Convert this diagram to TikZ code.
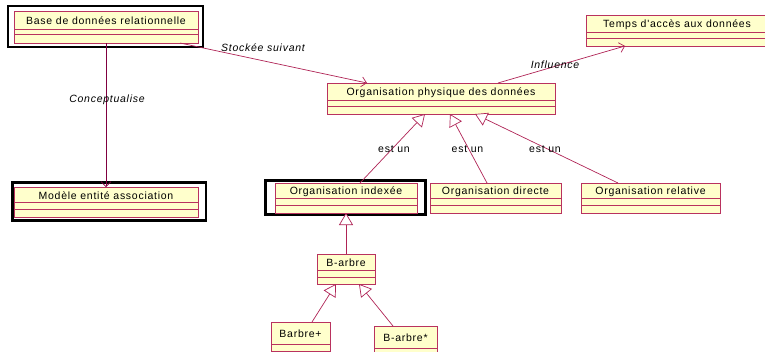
\documentclass[tikz,border=0pt]{standalone}
\usepackage{fontspec}
\setmainfont{Liberation Sans}
\newfontfamily\umlfont[LetterSpace=7]{Liberation Sans}
\usetikzlibrary{arrows.meta,calc}
\definecolor{clsfill}{RGB}{255,255,204}
\definecolor{clsborder}{RGB}{185,50,95}
\definecolor{assoc}{RGB}{175,35,85}
\definecolor{assocdark}{RGB}{128,0,64}
\tikzset{
  clsbox/.style={draw=clsborder, fill=clsfill, line width=0.8pt, inner sep=0pt, outer sep=0pt},
  clsline/.style={draw=clsborder, line width=0.8pt},
  clstext/.style={font=\umlfont\fontsize{10.5}{12}\selectfont, text=black, inner sep=0pt},
  frame/.style={draw=black, line width=2.6pt},
  assocline/.style={draw=assoc, line width=0.7pt, -{Straight Barb[length=5pt,width=10pt]}},
  genline/.style={draw=assoc, line width=0.7pt, -{Triangle[length=12pt,width=14pt,fill=white]}},
  lbl/.style={font=\umlfont\fontsize{10.5}{12}\selectfont\itshape, inner sep=1pt},
  estun/.style={font=\umlfont\fontsize{10.5}{12}\selectfont, inner sep=1pt}
}
% name, x1, y1, x2, y2, line1, line2, text
\newcommand{\umlcls}[8]{%
  \node[clsbox, minimum width={(#4-#2)*1pt}, minimum height={(#5-#3)*1pt}] (#1) at ({(#2+#4)/2},{(#3+#5)/2}) {};
  \draw[clsline] (#2,#6) -- (#4,#6) (#2,#7) -- (#4,#7);
  \node[clstext] at ({(#2+#4)/2},{(#3+#6)/2+0.8}) {#8};
}
\begin{document}
\begin{tikzpicture}[x=1pt,y=-1pt]
\useasboundingbox (0,0) rectangle (765,351);
% frames
\draw[frame] (8,6) rectangle (203,47);
\draw[frame] (12.3,182.3) rectangle (206,220.7);
\draw[frame] (265.3,180.3) rectangle (425.7,214.7);
% classes
\umlcls{base}{14}{11}{198}{43}{29}{34.5}{Base de données relationnelle}
\umlcls{modele}{14}{187}{198}{217}{202}{209}{Modèle entité association}
\umlcls{temps}{586}{15}{768}{46}{32}{38}{Temps d'accès aux données}
\umlcls{physique}{327}{83}{555}{114}{100}{106}{Organisation physique des données}
\umlcls{indexee}{275}{183}{417}{213}{198}{205}{Organisation indexée}
\umlcls{directe}{430}{183}{561}{213}{198}{205}{Organisation directe}
\umlcls{relative}{581}{183}{720}{213}{198}{205}{Organisation relative}
\umlcls{barbre}{317}{254}{375}{284}{270}{277}{B-arbre}
\umlcls{barbreplus}{271}{322}{330}{362}{344}{351}{Barbre+}
\umlcls{barbrestar}{374}{326}{437}{362}{348}{355}{B-arbre*}
% associations
\draw[assocline, draw=assocdark] (base.south) -- (modele.north);
\node[lbl] at (107,100) {Conceptualise};
\draw[assocline] ([xshift=-18pt]base.south east) -- ([xshift=40pt]physique.north west);
\node[lbl] at (263,48) {Stockée suivant};
\draw[assocline] ([xshift=-57pt]physique.north east) -- ([xshift=39pt]temps.south west);
\node[lbl] at (555,65) {Influence};
% generalisations
\draw[genline] ([xshift=14pt]indexee.north) -- ([xshift=-16pt]physique.south);
\draw[genline] ([xshift=-8.5pt]directe.north) -- ([xshift=9pt]physique.south);
\draw[genline] ([xshift=-32.5pt]relative.north) -- ([xshift=34pt]physique.south);
\node[estun] at (394,149) {est un};
\node[estun] at (467.5,149) {est un};
\node[estun] at (545,149) {est un};
\draw[genline] (barbre.north) -- (indexee.south);
\draw[genline] ([xshift=11.5pt]barbreplus.north) -- ([xshift=-10pt]barbre.south);
\draw[genline] ([xshift=-12.5pt]barbrestar.north) -- ([xshift=13pt]barbre.south);
\end{tikzpicture}
\end{document}
